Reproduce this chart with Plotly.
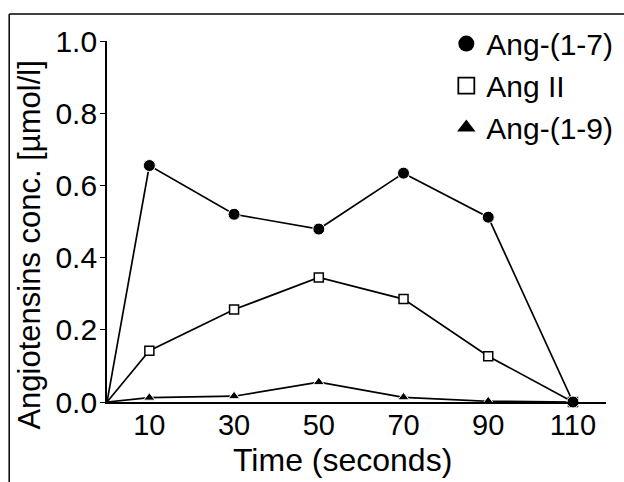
import plotly.graph_objects as go

time_s = [0, 10, 30, 50, 70, 90, 110]
ang17 = [0, 0.655, 0.52, 0.479, 0.634, 0.512, 0.0]
ang2 = [0, 0.142, 0.256, 0.345, 0.285, 0.127, 0.0]
ang19 = [0, 0.012, 0.016, 0.055, 0.013, 0.002, 0.0]
x_ticks = [10, 30, 50, 70, 90, 110]
y_ticks = [0.0, 0.2, 0.4, 0.6, 0.8, 1.0]
y_ticklabels = ["0.0", "0.2", "0.4", "0.6", "0.8", "1.0"]

FONT = "Liberation Sans, Arial, sans-serif"
line = dict(color="black", width=1.7)


def sizes(n, s):
    # no marker at the origin point
    return [0] + [s] * (n - 1)


fig = go.Figure()
fig.add_trace(go.Scatter(x=time_s, y=ang19, mode="lines+markers", line=line,
                         marker=dict(symbol="triangle-up", size=sizes(len(time_s), 10),
                                     color="black", opacity=1),
                         showlegend=False, cliponaxis=False))
fig.add_trace(go.Scatter(x=time_s, y=ang2, mode="lines+markers", line=line,
                         marker=dict(symbol="square", size=sizes(len(time_s), 9), color="white",
                                     opacity=1, line=dict(color="black", width=1.5)),
                         showlegend=False, cliponaxis=False))
fig.add_trace(go.Scatter(x=time_s, y=ang17, mode="lines+markers", line=line,
                         marker=dict(symbol="circle", size=sizes(len(time_s), 12),
                                     color="black", opacity=1),
                         showlegend=False, cliponaxis=False))

# legend-only entries
fig.add_trace(go.Scatter(x=[None], y=[None], mode="markers", name="Ang-(1-7)",
                         marker=dict(symbol="circle", size=19, color="black")))
fig.add_trace(go.Scatter(x=[None], y=[None], mode="markers", name="Ang II",
                         marker=dict(symbol="square", size=16, color="white",
                                     line=dict(color="black", width=1.8))))
fig.add_trace(go.Scatter(x=[None], y=[None], mode="markers", name="Ang-(1-9)",
                         marker=dict(symbol="triangle-up", size=19, color="black")))

fig.update_layout(
    width=624, height=482,
    margin=dict(l=107, r=18, t=41, b=80, autoexpand=False),
    paper_bgcolor="white", plot_bgcolor="white",
    font=dict(family=FONT, color="black", size=30),
    showlegend=True,
    legend=dict(x=0.68, y=1.065, xanchor="left", yanchor="top",
                font=dict(size=30, family=FONT), bgcolor="rgba(0,0,0,0)",
                itemwidth=30, tracegroupgap=0),
    xaxis=dict(range=[0, 117.8], tickvals=x_ticks, showline=True, linecolor="black",
               linewidth=1.7, ticks="", showgrid=False, zeroline=False,
               tickfont=dict(size=29), ticklabelstandoff=-4, automargin=False),
    yaxis=dict(range=[0, 1.0], tickvals=y_ticks, ticktext=y_ticklabels, showline=True,
               linecolor="black", linewidth=1.7, ticks="outside", ticklen=5,
               tickwidth=1.4, tickcolor="black", showgrid=False, zeroline=False,
               tickfont=dict(size=30), ticklabelstandoff=-3, automargin=False),
    shapes=[
        dict(type="line", xref="paper", yref="paper", x0=-0.196, x1=1.04, y0=1.075, y1=1.075,
             line=dict(color="black", width=1.5)),
        dict(type="line", xref="paper", yref="paper", x0=-0.196, x1=-0.196, y0=1.075, y1=-0.23,
             line=dict(color="black", width=1.5)),
    ],
    annotations=[
        dict(text="Time (seconds)", xref="paper", yref="paper", x=0.472, y=-0.16,
             xanchor="center", yanchor="middle", showarrow=False, font=dict(size=32)),
        dict(text="Angiotensins conc. [µmol/l]", xref="paper", yref="paper", x=-0.155,
             y=0.435, xanchor="center", yanchor="middle", textangle=-90, showarrow=False,
             font=dict(size=31)),
    ],
)

fig.write_html("out.html", config={"displayModeBar": False},
               post_script="document.body.style.margin='0';")
